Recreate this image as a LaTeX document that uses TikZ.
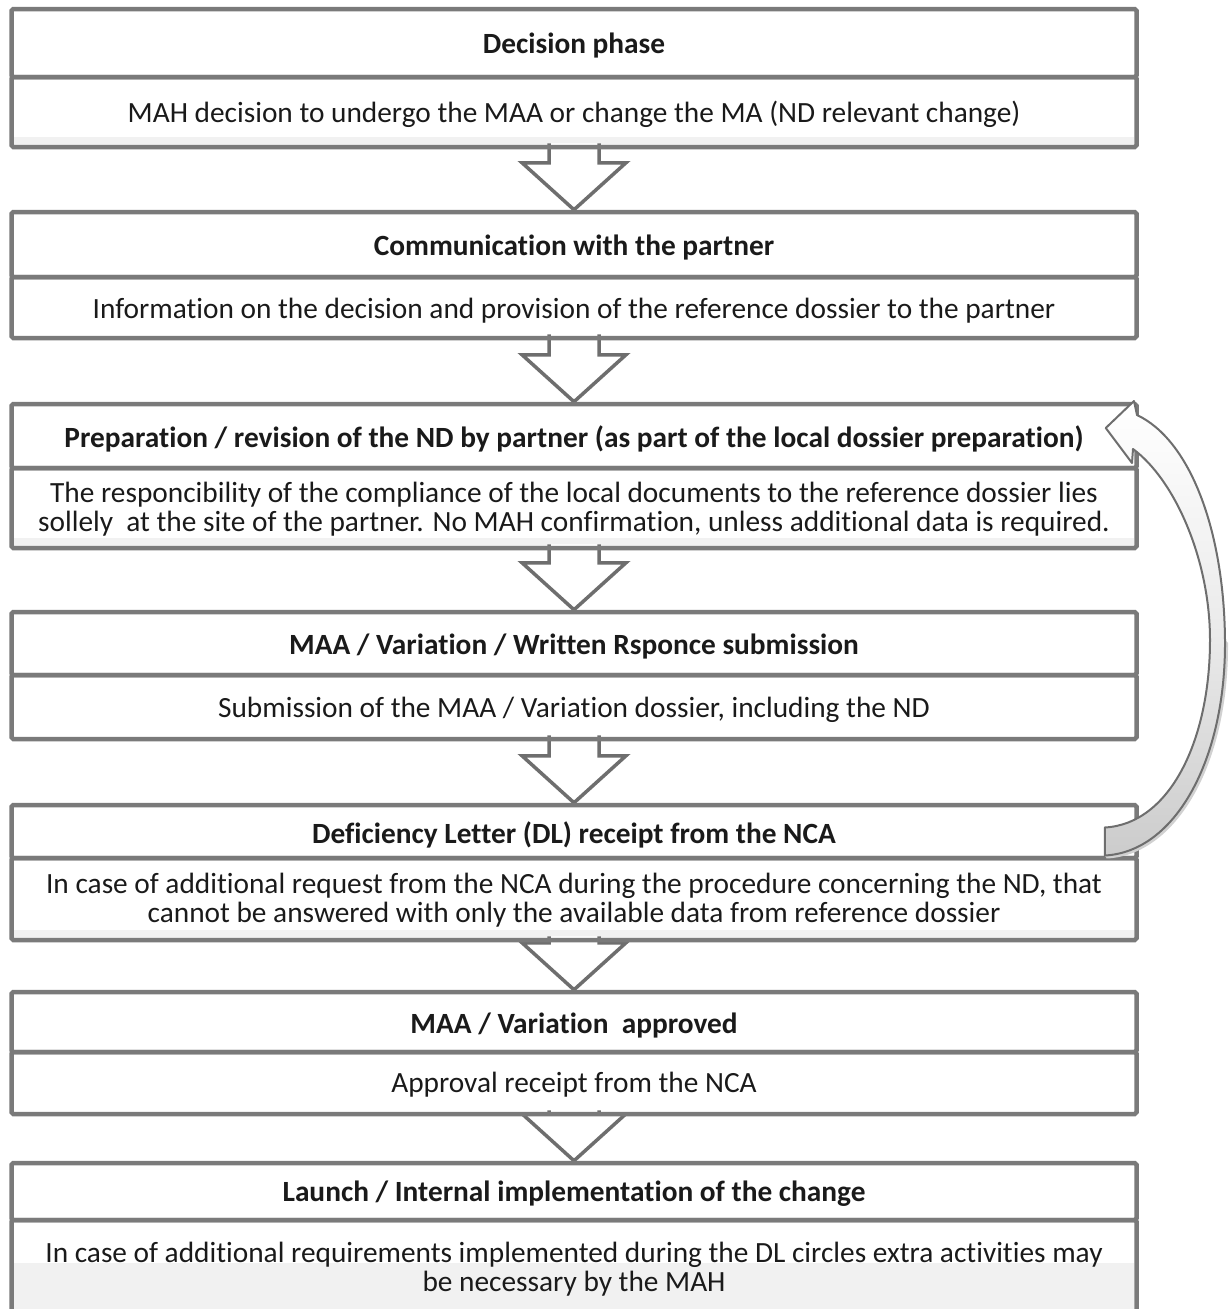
\documentclass[tikz,border=0pt]{standalone}
\usepackage{fontspec}
\setmainfont{Carlito}[Ligatures={NoCommon}]
\usetikzlibrary{calc}
\definecolor{bordergray}{HTML}{7A7A7A}
\definecolor{bandgray}{HTML}{F1F1F1}
\definecolor{arrowline}{HTML}{6E6E6E}
\definecolor{textcol}{HTML}{1A1A1A}
\newlength\pxu
\setlength\pxu{0.02cm}
\pgfdeclarelayer{background}
\pgfsetlayers{background,main}
\newcommand\flowarrow[2]{%
  \draw[flowarr] ($(#1.south)+(-25,-6)$) -- ($(#2.north)+(-25,-47)$) -- ($(#2.north)+(-52,-47)$)
    -- (#2.north) -- ($(#2.north)+(52,-47)$) -- ($(#2.north)+(25,-47)$) -- ($(#1.south)+(25,-6)$);}
\tikzset{
  boxpart/.style={draw=bordergray, line width=4.5\pxu, minimum width=1125\pxu, inner sep=0pt, rounded corners=1pt},
  txt/.style={inner sep=0pt, align=center, text=textcol, font=\fontsize{16.7}{16.5}\selectfont},
  hdrtxt/.style={txt, font=\fontsize{16.7}{16.5}\selectfont\bfseries},
  flowarr/.style={draw=arrowline, fill=white, line width=3.5\pxu, line join=miter},
  band/.style={fill=bandgray}
}
\begin{document}
\begin{tikzpicture}[x=0.02cm,y=-0.02cm]
\useasboundingbox (0,0) rectangle (1230,1309);
\clip (0,0) rectangle (1230,1309);
% box frames
\node[boxpart, minimum height=68\pxu] (h1) at (574,43) {};
\node[boxpart, minimum height=70\pxu] (b1) at (574,112) {};
\node[boxpart, minimum height=65\pxu] (h2) at (574,244.5) {};
\node[boxpart, minimum height=61\pxu] (b2) at (574,307.5) {};
\node[boxpart, minimum height=64\pxu] (h3) at (574,436) {};
\node[boxpart, minimum height=80\pxu] (b3) at (574,508) {};
\node[boxpart, minimum height=63\pxu] (h4) at (574,643.5) {};
\node[boxpart, minimum height=64\pxu] (b4) at (574,707) {};
\node[boxpart, minimum height=53\pxu] (h5) at (574,831.5) {};
\node[boxpart, minimum height=82\pxu] (b5) at (574,899) {};
\node[boxpart, minimum height=60\pxu] (h6) at (574,1022) {};
\node[boxpart, minimum height=62\pxu] (b6) at (574,1083) {};
\node[boxpart, minimum height=57\pxu] (h7) at (574,1191.5) {};
\node[boxpart, minimum height=94\pxu] (b7) at (574,1267) {};
% texts
\node[hdrtxt] (th1) at (574,46) {Decision phase};
\node[txt] (tb1) at (574,114) {MAH decision to undergo the MAA or change the MA (ND relevant change)};
\node[hdrtxt] (th2) at (574,247.5) {Communication with the partner};
\node[txt] (tb2) at (574,310.5) {Information on the decision and provision of the reference dossier to the partner};
\node[hdrtxt] (th3) at (574,439) {Preparation / revision of the ND by partner (as part of the local dossier preparation)};
\node[txt] (tb3) at (574,509) {The responcibility of the compliance of the local documents to the reference dossier lies\\sollely\ \ at the site of the partner. No MAH confirmation, unless additional data is required.};
\node[hdrtxt] (th4) at (574,646.5) {MAA / Variation / Written Rsponce submission};
\node[txt] (tb4) at (574,710) {Submission of the MAA / Variation dossier, including the ND};
\node[hdrtxt] (th5) at (574,835) {Deficiency Letter (DL) receipt from the NCA};
\node[txt] (tb5) at (574,900) {In case of additional request from the NCA during the procedure concerning the ND, that\\cannot be answered with only the available data from reference dossier};
\node[hdrtxt] (th6) at (574,1025) {MAA / Variation\ \ approved};
\node[txt] (tb6) at (574,1085) {Approval receipt from the NCA};
\node[hdrtxt] (th7) at (574,1194) {Launch / Internal implementation of the change};
\node[txt] (tb7) at (574,1269.5) {In case of additional requirements implemented during the DL circles extra activities may\\be necessary by the MAH};
\begin{pgfonlayer}{background}
  \fill[band] (13,137) rectangle (1134,147);
  \fill[band] (13,538) rectangle (1134,548);
  \fill[band] (13,930) rectangle (1134,940);
  \fill[band] (13,1263) rectangle (1134,1320);
  \flowarrow{b1}{h2}
  \flowarrow{b2}{h3}
  \flowarrow{b3}{h4}
  \flowarrow{b4}{h5}
  \flowarrow{b5}{h6}
  \flowarrow{b6}{h7}
\end{pgfonlayer}
% curved feedback arrow from h5 back to h3
\coordinate (tailtop) at ($(h5.east)+(-34,-4)$);
\coordinate (tailbot) at ($(h5.east)+(-34,24)$);
\coordinate (headtip) at ($(h3.east)+(-33,-8)$);
\fill[black!18] ($(tailbot)+(2,3)$) .. controls (1177,855) and (1229,763) .. (1228,643) -- (1225,640) .. controls (1226,760) and (1175,852) .. (tailbot) -- cycle;
\draw[arrowline, line width=2\pxu, line join=round, top color=white, bottom color=black!20, middle color=white!92!black]
  (tailtop) -- (tailbot)
  .. controls (1175,852) and (1226,760) .. (1225,640)
  .. controls (1224,530) and (1190,440) .. (1137,415)
  -- (1134,401) -- (headtip) -- (1132,463) -- (1133,449)
  .. controls (1175,480) and (1210,560) .. (1210,640)
  .. controls (1210,740) and (1170,824) .. (tailtop) -- cycle;
\end{tikzpicture}
\end{document}
